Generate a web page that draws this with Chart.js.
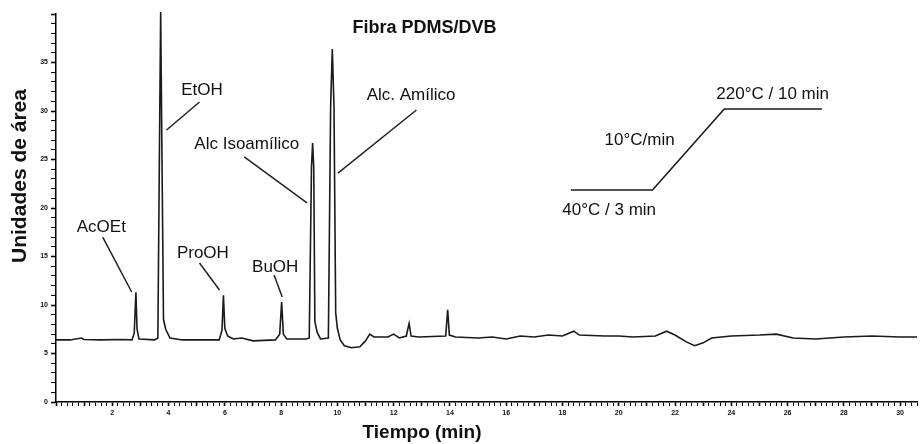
<!DOCTYPE html>
<html>
<head>
<meta charset="utf-8">
<script src="https://cdn.jsdelivr.net/npm/chart.js@4/dist/chart.umd.min.js"></script>
<style>
html,body{margin:0;padding:0;background:#fff;}
canvas{display:block;}
</style>
</head>
<body>
<canvas id="c" width="920" height="444"></canvas>
<script>
// ---- Data (retention time in min, signal in área units) ----
const times = [0.0,0.5,0.9,1.0,1.6,2.3,2.7,2.78,2.84,2.88,2.95,3.5,3.62,3.68,3.72,3.76,3.82,3.9,4.05,4.5,
  5.8,5.9,5.95,6.0,6.1,6.3,6.6,7.0,7.8,7.95,8.02,8.08,8.2,8.9,9.0,9.08,9.12,9.16,9.2,9.28,9.4,
  9.68,9.76,9.82,9.88,9.94,10.0,10.1,10.25,10.5,10.8,11.0,11.15,11.3,11.8,12.0,12.2,12.45,12.55,12.62,
  12.9,13.85,13.92,13.98,14.2,15.0,15.5,16.0,16.5,17.0,17.5,18.0,18.4,18.6,19.5,20.0,20.5,21.3,21.7,
  22.0,22.4,22.7,23.0,23.3,24.0,25.0,25.6,26.2,27.0,27.5,28.0,29.0,30.0,30.6];
const signal = [6.4,6.4,6.6,6.45,6.4,6.45,6.4,7.1,11.3,7.5,6.5,6.4,6.6,27.2,40.2,27.2,8.5,7.5,6.6,6.4,
  6.4,7.4,11.0,7.6,6.8,6.5,6.6,6.3,6.4,7.0,10.3,7.0,6.5,6.5,6.6,24.2,26.7,24.2,8.3,7.2,6.5,
  6.6,30.4,36.4,30.4,9.2,7.6,6.4,5.8,5.6,5.7,6.3,7.0,6.7,6.7,7.0,6.6,6.8,8.1,6.8,
  6.7,6.8,9.5,6.9,6.7,6.6,6.7,6.5,6.8,6.7,6.9,6.8,7.3,6.9,6.8,6.8,6.7,6.8,7.3,
  6.9,6.2,5.8,6.1,6.6,6.8,6.9,7.0,6.6,6.5,6.6,6.7,6.8,6.7,6.7];

// temperature program sketch (in chart units)
const progTimes = [18.3, 21.2, 23.75, 27.22];
const progValues = [21.86, 21.86, 30.21, 30.21];

// tick labels
const yTickLabels = [0,5,10,15,20,25,30,35];
const xTickLabels = [2,4,6,8,10,12,14,16,18,20,22,24,26,28,30];

// peak labels and leader lines (chart units)
const peakNames = ['AcOEt','EtOH','ProOH','BuOH','Alc Isoamílico','Alc. Amílico'];
const peakTextX = [1.61, 5.19, 5.22, 7.79, 6.78, 12.62];
const peakTextY = [18.04, 32.16, 15.36, 13.92, 26.6, 31.65];
const leadX1 = [1.66, 5.10, 5.10, 7.75, 6.69, 12.81];
const leadY1 = [17.0, 30.93, 14.33, 13.09, 25.26, 30.1];
const leadX2 = [2.69, 3.93, 5.81, 8.04, 8.92, 10.02];
const leadY2 = [11.34, 28.04, 11.55, 10.82, 20.52, 23.6];

const progNames = ['220°C / 10 min','10°C/min','40°C / 3 min'];
const progTextX = [25.47, 20.74, 19.66];
const progTextY = [31.75, 27.01, 19.79];

const chartTitle = 'Fibra PDMS/DVB';
const titleX = 13.1, titleY = 38.56;
const xTitle = 'Tiempo (min)';
const yTitle = 'Unidades de área';

const FONT = '"Liberation Sans", Arial, sans-serif';

const annot = {
  id: 'annot',
  afterDatasetsDraw(chart) {
    const {ctx, scales:{x, y}} = chart;
    ctx.save();
    ctx.fillStyle = '#111';
    ctx.strokeStyle = '#222';
    ctx.lineWidth = 1.5;
    ctx.textAlign = 'center';
    ctx.textBaseline = 'middle';
    ctx.font = '17px ' + FONT;
    for (let i = 0; i < peakNames.length; i++) {
      ctx.fillText(peakNames[i], x.getPixelForValue(peakTextX[i]), y.getPixelForValue(peakTextY[i]));
      ctx.beginPath();
      ctx.moveTo(x.getPixelForValue(leadX1[i]), y.getPixelForValue(leadY1[i]));
      ctx.lineTo(x.getPixelForValue(leadX2[i]), y.getPixelForValue(leadY2[i]));
      ctx.stroke();
    }
    for (let i = 0; i < progNames.length; i++) {
      ctx.fillText(progNames[i], x.getPixelForValue(progTextX[i]), y.getPixelForValue(progTextY[i]));
    }
    ctx.font = 'bold 18px ' + FONT;
    ctx.fillText(chartTitle, x.getPixelForValue(titleX), y.getPixelForValue(titleY));
    ctx.font = 'bold 19px ' + FONT;
    ctx.fillText(xTitle, 422, 433);
    ctx.translate(20, 176);
    ctx.rotate(-Math.PI/2);
    ctx.font = 'bold 21px ' + FONT;
    ctx.fillText(yTitle, 0, 0);
    ctx.restore();
  }
};

new Chart(document.getElementById('c'), {
  type: 'line',
  data: {
    datasets: [
      {
        label: 'Señal',
        data: times.map((t, i) => ({x: t, y: signal[i]})),
        borderColor: '#1a1a1a',
        borderWidth: 1.6,
        pointRadius: 0,
        tension: 0,
        fill: false,
        clip: false
      },
      {
        label: 'Programa de temperatura',
        data: progTimes.map((t, i) => ({x: t, y: progValues[i]})),
        borderColor: '#1a1a1a',
        borderWidth: 1.6,
        pointRadius: 0,
        tension: 0,
        fill: false
      }
    ]
  },
  options: {
    responsive: false,
    devicePixelRatio: 1,
    animation: false,
    layout: {padding: {top: 14, right: 0, left: 0, bottom: 0}},
    plugins: {legend: {display: false}, title: {display: false}, tooltip: {enabled: false}},
    scales: {
      x: {
        type: 'linear',
        min: 0, max: 30.6,
        afterFit(s) { s.height = 42; },
        border: {color: '#000', width: 1.5},
        grid: {drawOnChartArea: false, drawTicks: true, tickLength: 4, tickColor: '#000',
               tickWidth: (c) => (Math.abs(c.tick.value - Math.round(c.tick.value)) < 1e-6 ? 1.6 : 1)},
        ticks: {
          stepSize: 0.2, autoSkip: false, maxRotation: 0, minRotation: 0, padding: 3,
          color: '#111', font: {family: FONT, size: 7, weight: 'bold'},
          callback(v) {
            const r = Math.round(v);
            return (Math.abs(v - r) < 1e-6 && xTickLabels.includes(r)) ? String(r) : '';
          }
        }
      },
      y: {
        type: 'linear',
        min: 0, max: 40,
        afterFit(s) { s.width = 56; },
        border: {color: '#000', width: 1.5},
        grid: {drawOnChartArea: false, drawTicks: true, tickLength: 5, tickColor: '#000',
               tickWidth: (c) => (c.tick.value % 5 === 0 ? 1.6 : 1)},
        ticks: {
          stepSize: 1, autoSkip: false, padding: 3,
          color: '#111', font: {family: FONT, size: 7, weight: 'bold'},
          callback(v) { return yTickLabels.includes(v) ? String(v) : ''; }
        }
      }
    }
  },
  plugins: [annot]
});
</script>
</body>
</html>
